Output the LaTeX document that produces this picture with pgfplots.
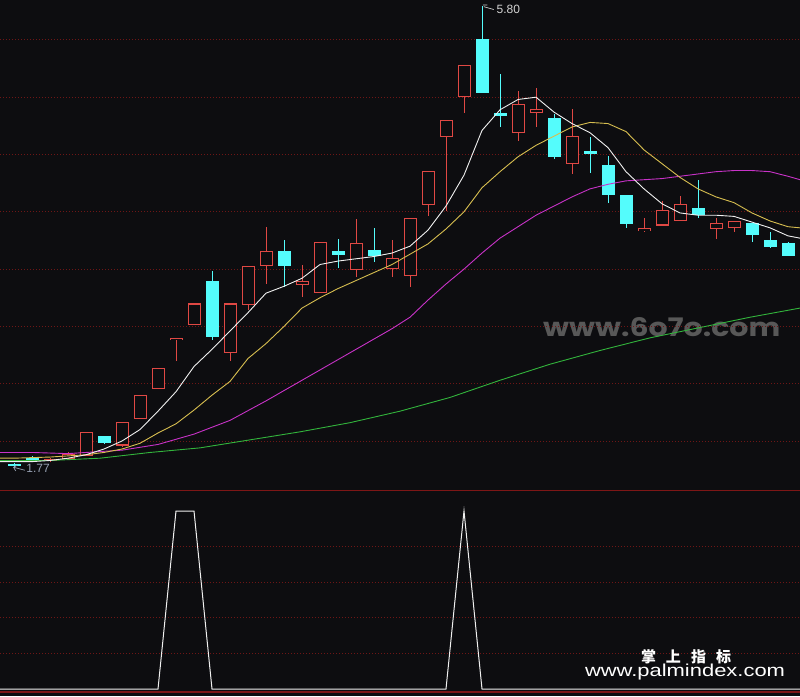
\documentclass[border=0pt]{standalone}
\usepackage{fontspec}
\setmainfont{Liberation Sans}
\newfontfamily\cjk{Noto Sans CJK SC}
\newfontfamily\wmfont{Poppins}
\usepackage{graphicx}
\usepackage{pgfplots}
\usepackage{pgfplotstable}
\usetikzlibrary{arrows.meta}
\pgfplotsset{compat=1.18}
\definecolor{bgc}{RGB}{13,13,16}
\definecolor{candred}{RGB}{224,72,68}
\definecolor{candcyan}{RGB}{84,252,252}
\definecolor{mawhite}{RGB}{240,240,240}
\definecolor{mayellow}{RGB}{215,190,80}
\definecolor{mamagenta}{RGB}{200,50,200}
\definecolor{magreen}{RGB}{50,180,60}
\definecolor{gridred}{RGB}{110,22,22}
\definecolor{sepred}{RGB}{125,22,22}
\definecolor{wmgray}{RGB}{88,88,88}
\definecolor{lowgray}{RGB}{150,160,178}

\pgfplotstableread{
i o h l c
2 1.83 1.85 1.82 1.84
3 1.84 1.90 1.83 1.89
4 1.87 2.08 1.87 2.08
6 1.96 2.17 1.95 2.17
7 2.19 2.40 2.19 2.40
8 2.45 2.64 2.45 2.64
9 2.88 2.90 2.70 2.90
10 3.01 3.20 3.01 3.20
12 2.77 3.20 2.70 3.20
13 3.19 3.53 3.14 3.53
14 3.53 3.87 3.37 3.66
16 3.36 3.54 3.26 3.40
17 3.29 3.74 3.29 3.74
19 3.49 3.94 3.43 3.73
21 3.50 3.75 3.43 3.60
22 3.44 3.95 3.34 3.95
23 4.06 4.36 3.96 4.36
24 4.65 4.80 4.01 4.80
25 5.00 5.28 4.86 5.28
28 4.69 5.05 4.62 4.94
29 4.86 5.08 4.74 4.90
31 4.42 4.90 4.33 4.66
35 3.83 3.95 3.82 3.86
36 3.88 4.09 3.88 4.02
37 3.92 4.14 3.92 4.07
39 3.85 3.95 3.76 3.90
40 3.86 3.92 3.82 3.92
}\upcandles

\pgfplotstableread{
i o h l c
0 1.80 1.81 1.77 1.78
1 1.85 1.87 1.82 1.83
5 2.04 2.04 1.97 1.98
11 3.40 3.48 2.88 2.91
15 3.66 3.75 3.34 3.53
18 3.66 3.76 3.51 3.62
20 3.67 3.86 3.56 3.61
26 5.51 5.80 5.04 5.04
27 4.86 5.20 4.74 4.84
30 4.82 4.85 4.46 4.48
32 4.53 4.65 4.34 4.50
33 4.41 4.49 4.08 4.15
34 4.15 4.15 3.86 3.89
38 4.03 4.28 3.95 3.97
41 3.90 3.90 3.74 3.80
42 3.75 3.82 3.68 3.69
43 3.73 3.74 3.61 3.61
}\downcandles

\pgfplotsset{
  panel/.style={
    scale only axis, width=800pt,
    xmin=-0.7778, xmax=43.667,
    axis line style={draw=none}, tick style={draw=none},
    major tick length=0pt,
    xtick=\empty, yticklabels={},
    ymajorgrids,
    grid style={draw=gridred, dash pattern=on 1pt off 2pt, line width=0.8pt},
  },
  wick/.style={draw=none, no markers,
    error bars/.cd, y dir=both, y explicit, error mark=none,
    error bar style={draw=#1, solid, line width=1pt}},
  body/.style 2 args={draw=none, no markers,
    error bars/.cd, y dir=both, y explicit, error mark=none,
    error bar style={draw=#1, solid, line width=#2}},
}

\begin{document}
\begin{tikzpicture}[x=1pt,y=1pt]
\fill[bgc] (0pt,0pt) rectangle (800pt,696pt);
\node[anchor=base west, inner sep=0, text=wmgray] at (543pt,359pt)
  {\resizebox{237pt}{19pt}{\wmfont\bfseries www.6o7o.com}};

\begin{axis}[panel, at={(0pt,207pt)}, anchor=south west, height=489pt,
  ymin=1.5812, ymax=5.8482, ytick={2,2.5,...,5.5}]
% red (rising) candles: wick, outline, hollow inside
\addplot[wick=candred] table[x=i, y expr={(\thisrow{h}+\thisrow{l})/2},
  y error expr={(\thisrow{h}-\thisrow{l})/2}] {\upcandles};
\addplot[body={candred}{13pt}] table[x=i, y expr={(\thisrow{o}+\thisrow{c})/2},
  y error expr={(\thisrow{c}-\thisrow{o})/2}] {\upcandles};
\addplot[body={bgc}{11pt}] table[x=i, y expr={(\thisrow{o}+\thisrow{c})/2},
  y error expr={max((\thisrow{c}-\thisrow{o})/2-0.0095,0)}] {\upcandles};
% cyan (falling) candles
\addplot[wick=candcyan] table[x=i, y expr={(\thisrow{h}+\thisrow{l})/2},
  y error expr={(\thisrow{h}-\thisrow{l})/2}] {\downcandles};
\addplot[body={candcyan}{13pt}] table[x=i, y expr={(\thisrow{o}+\thisrow{c})/2},
  y error expr={(\thisrow{o}-\thisrow{c})/2}] {\downcandles};
% moving averages
\addplot[magreen, line width=0.9pt] coordinates {(-0.78,1.83) (2,1.83) (4.78,1.85) (7.56,1.90) (10.33,1.94) (13.11,2.01) (15.89,2.08) (18.67,2.16) (21.44,2.26) (24.22,2.38) (27,2.53) (29.78,2.67) (32.56,2.79) (35.33,2.90) (38.11,2.99) (40.89,3.08) (43.67,3.16)};
\addplot[mamagenta, line width=0.9pt] coordinates {(-0.78,1.90) (1,1.90) (3,1.89) (4,1.90) (6,1.92) (8,1.97) (10,2.06) (12,2.18) (14,2.35) (16,2.53) (18,2.71) (20,2.89) (21,2.98) (22,3.08) (23,3.23) (24,3.37) (25,3.50) (26,3.64) (27,3.77) (28,3.87) (29,3.97) (30,4.05) (31,4.13) (32,4.20) (33,4.24) (34,4.27) (35,4.28) (36,4.29) (37,4.31) (38,4.33) (39,4.35) (40,4.36) (41,4.36) (42,4.35) (43,4.31) (43.67,4.28)};
\addplot[mayellow, line width=0.9pt] coordinates {(-0.78,1.85) (0,1.85) (2,1.86) (4,1.88) (5,1.90) (6,1.93) (7,1.98) (8,2.07) (9,2.15) (10,2.27) (11,2.40) (12,2.52) (13,2.72) (14,2.85) (15,3.00) (16,3.16) (17,3.25) (18,3.33) (19,3.40) (20,3.47) (21,3.54) (22,3.63) (23,3.72) (24,3.85) (25,4.00) (26,4.21) (27,4.35) (28,4.48) (29,4.58) (30,4.66) (31,4.74) (32,4.78) (33,4.77) (34,4.70) (35,4.54) (36,4.42) (37,4.30) (38,4.20) (39,4.13) (40,4.08) (41,3.99) (42,3.92) (43,3.87) (43.67,3.86)};
\addplot[mawhite, line width=0.9pt] coordinates {(-0.78,1.82) (0,1.82) (1,1.82) (2,1.83) (3,1.85) (4,1.88) (5,1.93) (6,2.00) (7,2.10) (8,2.26) (9,2.43) (10,2.65) (11,2.80) (12,2.96) (13,3.12) (14,3.29) (15,3.35) (16,3.42) (17,3.54) (18,3.57) (19,3.59) (20,3.61) (21,3.64) (22,3.70) (23,3.84) (24,4.05) (25,4.32) (26,4.71) (27,4.89) (28,4.98) (29,5.00) (30,4.87) (31,4.77) (32,4.69) (33,4.56) (34,4.35) (35,4.20) (36,4.07) (37,3.99) (38,3.97) (39,3.97) (40,3.96) (41,3.91) (42,3.86) (43,3.79) (43.67,3.77)};
% high / low labels
\draw[mawhite!85!black, line width=0.7pt] (axis cs:26.05,5.805) -- (axis cs:26.3,5.805) (axis cs:26.1,5.79) -- (axis cs:26.65,5.765);
\node[anchor=west, inner sep=0, text=mawhite!88!black, font=\fontsize{12}{12}\selectfont] at (axis cs:26.8,5.765) {5.80};
\draw[lowgray, line width=0.7pt, -{Straight Barb[length=3pt]}] (axis cs:0.6,1.745) -- (axis cs:-0.05,1.772);
\node[anchor=west, inner sep=0, text=lowgray, font=\fontsize{12}{12}\selectfont] at (axis cs:0.68,1.765) {1.77};
\end{axis}

\begin{axis}[panel, at={(0pt,0pt)}, anchor=south west, height=207pt,
  ymin=-0.0393, ymax=1.1236, ytick={0.2,0.4,0.6,0.8},
  extra y ticks={1.115,-0.017}, extra y tick labels={},
  extra y tick style={major grid style={draw=sepred, solid, line width=1.3pt}}]
\addplot[mawhite, line width=1pt] coordinates {(-0.78,0) (8,0) (9,1) (10,1) (11,0) (24,0) (25,1) (26,0) (43.67,0)};
\end{axis}

\node[anchor=base, inner sep=0, text=white, font=\fontsize{15}{15}\selectfont] at (686pt,34pt)
  {\cjk\bfseries 掌\hspace{10pt}上\hspace{10pt}指\hspace{10pt}标};
\node[anchor=base, inner sep=0, text=white] at (685pt,20pt)
  {\resizebox{200pt}{12.5pt}{www.palmindex.com}};
\pgfresetboundingbox
\path[use as bounding box] (0pt,0pt) rectangle (800pt,696pt);
\end{tikzpicture}
\end{document}
